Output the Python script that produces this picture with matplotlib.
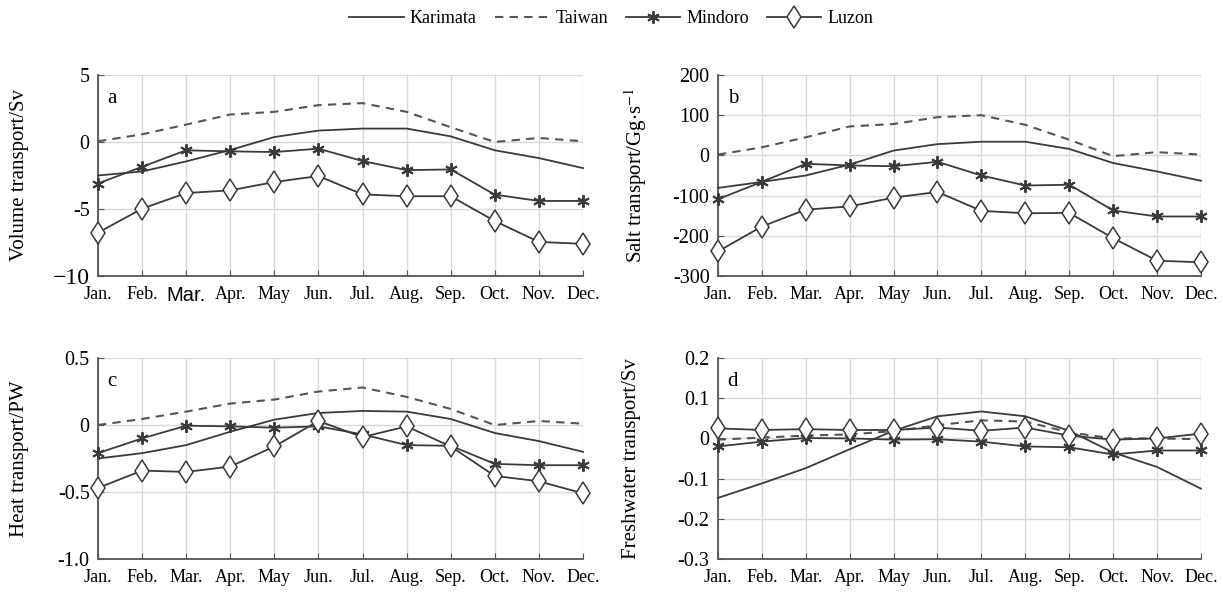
import numpy as np
import matplotlib
matplotlib.use("Agg")
import matplotlib.pyplot as plt
from matplotlib.lines import Line2D

plt.rcParams['font.family'] = ['Liberation Serif', 'DejaVu Serif']
plt.rcParams['mathtext.fontset'] = 'stix'
plt.rcParams['axes.unicode_minus'] = False

months = ['Jan.', 'Feb.', 'Mar.', 'Apr.', 'May', 'Jun.', 'Jul.', 'Aug.', 'Sep.', 'Oct.', 'Nov.', 'Dec.']
series_names = ['Karimata', 'Taiwan', 'Mindoro', 'Luzon']

# a: volume transport (Sv)
vol_karimata = [-2.5, -2.2, -1.45, -0.6, 0.37, 0.85, 1.0, 1.0, 0.42, -0.62, -1.2, -1.95]
vol_taiwan = [0.05, 0.57, 1.3, 2.05, 2.25, 2.75, 2.9, 2.25, 1.1, 0.0, 0.3, 0.05]
vol_mindoro = [-3.1, -1.85, -0.62, -0.7, -0.75, -0.5, -1.42, -2.1, -2.05, -3.93, -4.4, -4.4]
vol_luzon = [-6.77, -4.98, -3.81, -3.61, -2.99, -2.54, -3.91, -4.05, -4.05, -5.9, -7.46, -7.6]

# b: salt transport (Gg/s)
salt_karimata = [-81, -66, -50, -23, 12, 28, 34, 34, 16, -19, -40, -63]
salt_taiwan = [2, 20, 45, 72, 78, 95, 100, 76, 39, -2, 8, 2]
salt_mindoro = [-109, -66, -21, -25, -27, -16, -50, -75, -73, -137, -152, -152]
salt_luzon = [-239, -177, -135, -127, -105, -91, -138, -144, -143, -206, -262, -266]

# c: heat transport (PW)
heat_karimata = [-0.25, -0.21, -0.15, -0.05, 0.04, 0.09, 0.105, 0.10, 0.045, -0.06, -0.12, -0.2]
heat_taiwan = [0.0, 0.045, 0.1, 0.16, 0.19, 0.25, 0.28, 0.21, 0.12, 0.0, 0.03, 0.01]
heat_mindoro = [-0.21, -0.1, -0.005, -0.01, -0.02, -0.01, -0.07, -0.15, -0.155, -0.29, -0.3, -0.3]
heat_luzon = [-0.47, -0.34, -0.35, -0.31, -0.16, 0.03, -0.09, -0.01, -0.16, -0.38, -0.42, -0.51]

# d: freshwater transport (Sv)
fw_karimata = [-0.148, -0.112, -0.074, -0.027, 0.019, 0.055, 0.067, 0.055, 0.019, -0.035, -0.071, -0.125]
fw_taiwan = [-0.003, 0.002, 0.007, 0.01, 0.018, 0.033, 0.045, 0.042, 0.015, 0.0, 0.0, -0.002]
fw_mindoro = [-0.02, -0.008, 0.001, 0.0, -0.003, -0.002, -0.008, -0.02, -0.022, -0.04, -0.03, -0.03]
fw_luzon = [0.025, 0.021, 0.023, 0.021, 0.021, 0.027, 0.019, 0.027, 0.007, -0.003, 0.0, 0.012]

panels = [
    dict(letter='a', ylabel='Volume transport/Sv',
         data=[vol_karimata, vol_taiwan, vol_mindoro, vol_luzon],
         ticks=[5, 0, -5, -10], ticklabels=['5', '0', '-5', '\u221210'], labx=-0.142),
    dict(letter='b', ylabel=r'Salt transport/Gg$\cdot$s$^{-1}$',
         data=[salt_karimata, salt_taiwan, salt_mindoro, salt_luzon],
         ticks=[200, 100, 0, -100, -200, -300],
         ticklabels=['200', '100', '0', '-100', '-200', '-300'], labx=-0.142),
    dict(letter='c', ylabel='Heat transport/PW',
         data=[heat_karimata, heat_taiwan, heat_mindoro, heat_luzon],
         ticks=[0.5, 0, -0.5, -1.0], ticklabels=['0.5', '0', '-0.5', '-1.0'], labx=-0.142),
    dict(letter='d', ylabel='Freshwater transport/Sv',
         data=[fw_karimata, fw_taiwan, fw_mindoro, fw_luzon],
         ticks=[0.2, 0.1, 0, -0.1, -0.2, -0.3],
         ticklabels=['0.2', '0.1', '0', '-0.1', '-0.2', '-0.3'], labx=-0.16),
]

line_color = '#3a3a3a'
styles = [
    dict(ls='-', lw=1.3, marker=None),
    dict(ls=(0, (4, 3)), lw=1.5, marker=None, color='#555555'),
    dict(ls='-', lw=1.3, marker=(6, 2, 0), ms=9, mew=1.4),
    dict(ls='-', lw=1.3, marker='d', ms=11.5, mfc='white', mew=1.1),
]

fig = plt.figure(figsize=(12.23, 5.98), dpi=100)
rects = [
    [0.0801, 0.5385, 0.3966, 0.3361],
    [0.5870, 0.5385, 0.3950, 0.3361],
    [0.0801, 0.0652, 0.3966, 0.3361],
    [0.5870, 0.0652, 0.3950, 0.3361],
]

x = np.arange(len(months))
for rect, p in zip(rects, panels):
    ax = fig.add_axes(rect)
    for vals, st in zip(p['data'], styles):
        st = dict(st)
        color = st.pop('color', line_color)
        ax.plot(x, vals, color=color, mec=line_color, zorder=3, clip_on=False, **st)
    ax.set_xlim(0, 11)
    ax.set_ylim(min(p['ticks']), max(p['ticks']))
    ax.set_xticks(x)
    ax.set_xticklabels(months, fontsize=13)
    ax.set_yticks(p['ticks'])
    ax.set_yticklabels(p['ticklabels'], fontsize=14.5)
    ax.grid(True, color='#d8d8d8', lw=1.0, zorder=0)
    for side in ['top', 'right']:
        ax.spines[side].set_visible(False)
    for side in ['left', 'bottom']:
        ax.spines[side].set_color('#555555')
        ax.spines[side].set_linewidth(1.3)
    ax.tick_params(direction='in', length=4, color='#555555', pad=6)
    ax.tick_params(axis='x', pad=7)
    ax.set_ylabel(p['ylabel'], fontsize=15)
    ax.yaxis.set_label_coords(p['labx'], 0.5)
    ax.text(0.02, 0.86, p['letter'], transform=ax.transAxes, fontsize=15)
    if p['letter'] == 'a':
        ax.get_xticklabels()[2].set_fontsize(14.5)
        ax.get_xticklabels()[2].set_family('Liberation Sans')
        ax.get_yticklabels()[3].set_fontsize(17)

handles = []
for name, st in zip(series_names, styles):
    st = dict(st)
    color = st.pop('color', line_color)
    handles.append(Line2D([], [], color=color, mec=line_color, label=name, **st))
fig.legend(handles=handles, loc='upper center', bbox_to_anchor=(0.5, 1.01), ncol=4,
           frameon=False, fontsize=13, handlelength=3.0, columnspacing=1.0, handletextpad=0.35)

fig.savefig('out.png', dpi=100)
